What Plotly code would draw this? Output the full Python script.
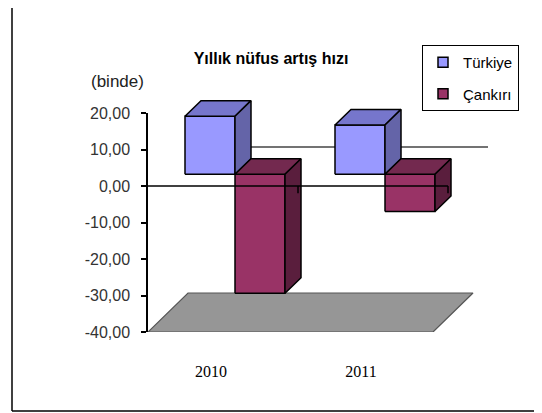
import plotly.graph_objects as go

# ---------------- data ----------------
categories = ["2010", "2011"]
series_names = ["Türkiye", "Çankırı"]
turkiye = [15.9, 13.5]
cankiri = [-32.6, -10.2]
y_tick_vals = [20, 10, 0, -10, -20, -30, -40]
y_tick_text = ["20,00", "10,00", "0,00", "-10,00", "-20,00", "-30,00", "-40,00"]
chart_title = "Yıllık nüfus artış hızı"
unit_label = "(binde)"

series_values = [turkiye, cankiri]

# ---------------- style ----------------
face_colors = [
    ("#9999FF", "#7676CC", "#6464A8"),   # front, top, side
    ("#993366", "#73294F", "#5A1E3D"),
]
Y_MIN, Y_MAX, Y_TOP = -40, 20, 25.75
X_MAX = 352 / 150
DX = 40 / 150          # x shift for full depth
DV = 39 / 3.65         # value shift for full depth
BAR_W = 1 / 3
BAR_START = 1 / 6
D0, D1 = 0.3, 0.7      # bar depth band
FLOOR_X = 1.9
OUT = "black"

PAGE_OFF = 8           # default body margin of the html page
FIG_W, FIG_H = 542 - PAGE_OFF, 413 - PAGE_OFF


def proj(x, v, d):
    return x + d * DX, v + d * DV


def face_trace(pts, fill, lw=1.5, lc=OUT):
    xs, ys = [], []
    for p in pts + [pts[0]]:
        px, py = proj(*p)
        xs.append(px)
        ys.append(py)
    return go.Scatter(x=xs, y=ys, mode="lines", fill="toself", fillcolor=fill,
                      line=dict(color=lc, width=lw), hoverinfo="skip",
                      showlegend=False, xaxis="x", yaxis="y2")


fig = go.Figure()

# placeholder on visible value axis
fig.add_trace(go.Scatter(x=[None], y=[None], showlegend=False, xaxis="x", yaxis="y"))

# floor
fig.add_trace(face_trace([(0, Y_MIN, 0), (FLOOR_X, Y_MIN, 0), (FLOOR_X, Y_MIN, 1), (0, Y_MIN, 1)],
                         "#969696", lw=1.2, lc="#555555"))

# back zero line
n = len(categories)
bx, by = zip(proj(0, 0, 1), proj(n, 0, 1))
fig.add_trace(go.Scatter(x=list(bx), y=list(by), mode="lines", line=dict(color="#444444", width=1.5),
                         hoverinfo="skip", showlegend=False, xaxis="x", yaxis="y2"))

# bars
for i in range(n):
    for s, vals in enumerate(series_values):
        v = vals[i]
        x0 = i + BAR_START + s * BAR_W
        x1 = x0 + BAR_W
        lo, hi = min(0, v), max(0, v)
        front, top, side = face_colors[s]
        fig.add_trace(face_trace([(x0, lo, D0), (x1, lo, D0), (x1, hi, D0), (x0, hi, D0)], front))
        fig.add_trace(face_trace([(x0, hi, D0), (x1, hi, D0), (x1, hi, D1), (x0, hi, D1)], top))
        fig.add_trace(face_trace([(x1, lo, D0), (x1, hi, D0), (x1, hi, D1), (x1, lo, D1)], side))

# front zero line with category ticks
fx, fy = [0, n], [0, 0]
for k in range(1, n + 1):
    fx += [None, k, k]
    fy += [None, 0, -2]
fig.add_trace(go.Scatter(x=fx, y=fy, mode="lines", line=dict(color="black", width=1.5),
                         hoverinfo="skip", showlegend=False, xaxis="x", yaxis="y2"))

# legend entries
for s, name in enumerate(series_names):
    fig.add_trace(go.Scatter(x=[None], y=[None], mode="markers", name=name, legendgroup=name,
                             marker=dict(symbol="square", size=10, color=face_colors[s][0],
                                         line=dict(color="black", width=1.5)),
                             xaxis="x", yaxis="y2"))

# page-pixel placement of the plot area
PL, PR, PT, PB = 148, 500, 92, 332
PW, PH = PR - PL, PB - PT
L, T = PL - PAGE_OFF, PT - PAGE_OFF
R, B = FIG_W - L - PW, FIG_H - T - PH


def px_x(p):
    return (p - PL) / PW


def px_y(p):
    return (PB - p) / PH


fig.update_layout(
    width=FIG_W, height=FIG_H,
    margin=dict(l=L, r=R, t=T, b=B, autoexpand=False),
    paper_bgcolor="white", plot_bgcolor="rgba(0,0,0,0)",
    font=dict(family="Liberation Sans, Arial, sans-serif", color="#222222"),
    title=dict(text="<b>" + chart_title + "</b>", x=(271 - PAGE_OFF) / FIG_W, xref="container",
               xanchor="center", y=1 - (58 - PAGE_OFF) / FIG_H, yref="container", yanchor="middle",
               font=dict(family="Liberation Sans, Arial, sans-serif", size=16, color="black")),
    xaxis=dict(range=[0, X_MAX], tickvals=[i + 0.5 for i in range(n)], ticktext=categories,
               ticks="", showline=False, showgrid=False, zeroline=False, anchor="y2",
               ticklabelshift=-12, ticklabelstandoff=28,
               tickfont=dict(family="Liberation Serif, Times New Roman, serif", size=16, color="black")),
    yaxis=dict(domain=[0, (Y_MAX - Y_MIN) * 3.65 / PH], range=[Y_MIN, Y_MAX], tickvals=y_tick_vals,
               ticktext=y_tick_text, ticks="outside", ticklen=5, tickwidth=1.5, tickcolor="black",
               showline=True, linecolor="black", linewidth=1.5, showgrid=False, zeroline=False,
               anchor="x", ticklabelstandoff=8,
               tickfont=dict(family="Liberation Sans, Arial, sans-serif", size=16, color="#333333")),
    yaxis2=dict(domain=[0, 1], range=[Y_MIN, Y_TOP], visible=False, anchor="x"),
    legend=dict(x=px_x(422), y=px_y(45), xanchor="left", yanchor="top",
                bordercolor="black", borderwidth=1, bgcolor="white", tracegroupgap=9,
                font=dict(family="Liberation Sans, Arial, sans-serif", size=15, color="black")),
    annotations=[dict(text=unit_label, xref="paper", yref="paper", x=px_x(89),
                      y=px_y(82), xanchor="left", yanchor="middle", showarrow=False,
                      font=dict(family="Liberation Sans, Arial, sans-serif", size=17, color="#222222"))],
    shapes=[
        dict(type="line", xref="paper", yref="paper", x0=px_x(12), x1=px_x(12),
             y0=px_y(-2), y1=px_y(411), line=dict(color="black", width=1.5)),
        dict(type="line", xref="paper", yref="paper", x0=px_x(12), x1=px_x(544),
             y0=px_y(411), y1=px_y(411), line=dict(color="black", width=1.5)),
    ],
    showlegend=True,
)

fig.write_html("out.html")
